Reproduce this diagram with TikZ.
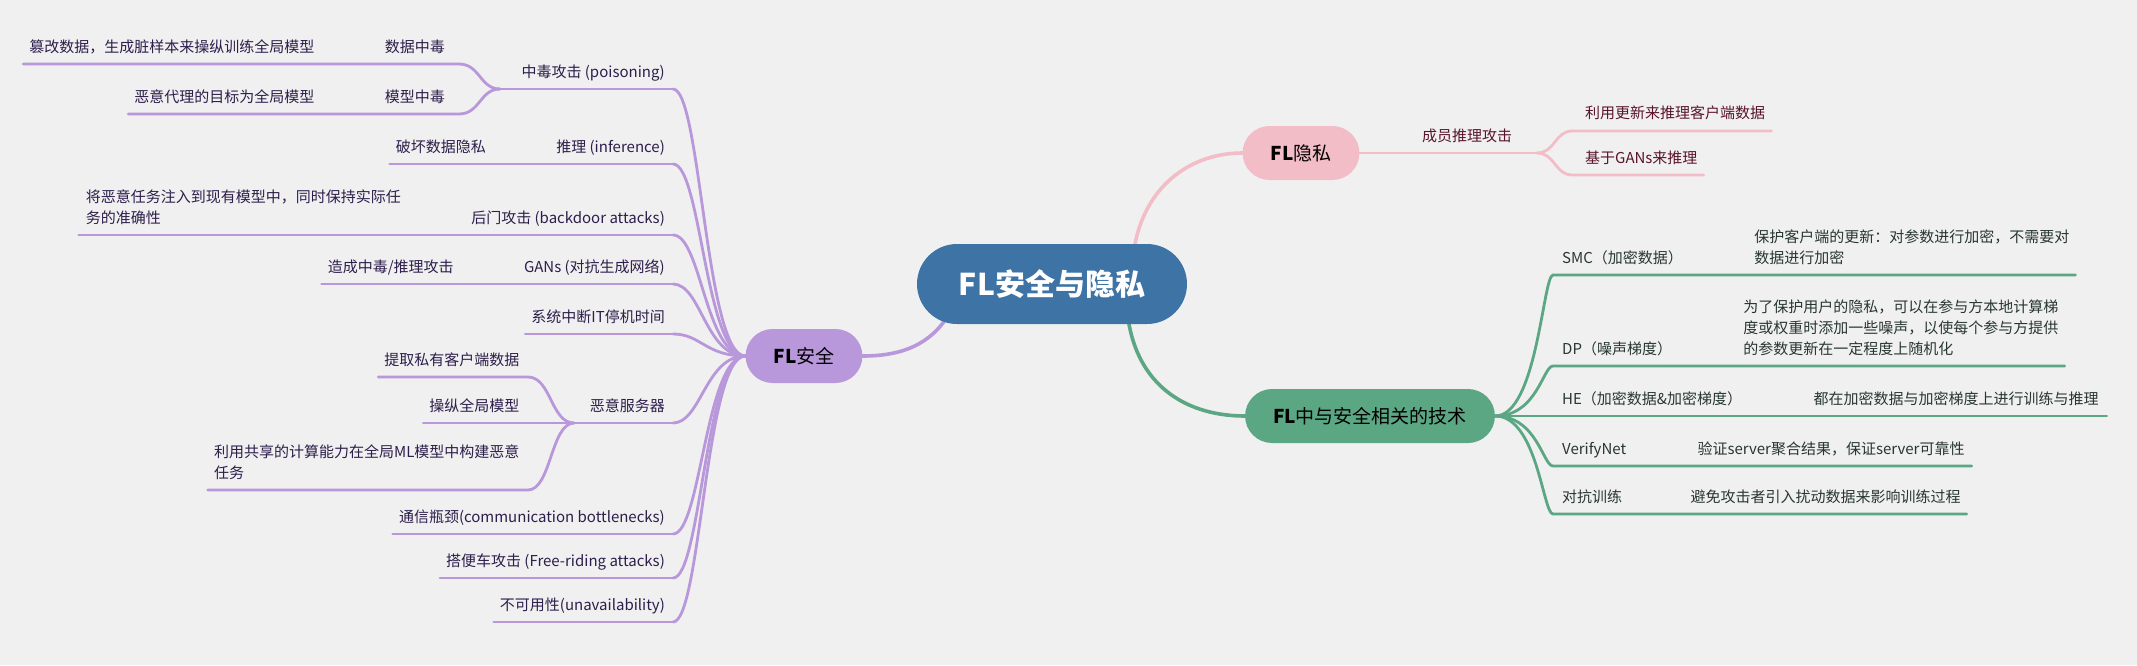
\documentclass[tikz,border=0pt]{standalone}
\usepackage{fontspec}
\setmainfont{Noto Sans CJK SC}
\usepackage{tikz}
\usetikzlibrary{positioning,
                backgrounds}
\definecolor{canvas}{RGB}{240,240,240}
\definecolor{rootblue}{RGB}{61,115,165}
\definecolor{secpurple}{RGB}{184,151,218}
\definecolor{privpink}{RGB}{243,189,200}
\definecolor{techgreen}{RGB}{91,166,131}
\definecolor{purtext}{RGB}{45,30,75}
\definecolor{pinktext}{RGB}{90,20,45}
\definecolor{greentext}{RGB}{40,55,48}
\tikzset{root/.style =
   {rectangle,
    rounded corners=40pt,
    fill=rootblue,
    text=white,
    font=\fontsize{30}{36}\selectfont\bfseries,
    minimum width=270pt,
    minimum height=80pt}}
\tikzset{topic/.style =
   {rectangle,
    rounded corners=27pt,
    inner xsep=28pt,
    minimum height=54pt,
    font=\fontsize{19}{23}\selectfont}}
\tikzset{leaf/.style =
   {inner sep=0pt,
    font=\fontsize{15}{21}\selectfont}}
\tikzset{note/.style = {align=left}}
\tikzset{purleaf/.style = {leaf, text=purtext}}
\tikzset{pinkleaf/.style = {leaf, text=pinktext}}
\tikzset{greenleaf/.style = {leaf, text=greentext}}
\tikzset{purline/.style = {draw=secpurple, line width=2.8pt, line cap=round}}
\tikzset{pinkline/.style = {draw=privpink, line width=2.8pt, line cap=round}}
\tikzset{greenline/.style = {draw=techgreen, line width=2.8pt, line cap=round}}

\begin{document}
\begin{tikzpicture}[x=1pt, y=-1pt]

    \useasboundingbox (0,0) rectangle (2137,665);

    \node [root] (core) at (1052,284) {FL安全与隐私};

    \node [topic, fill=secpurple] (sec) at (804,356) {{\bfseries FL}安全};
    \node [topic, fill=privpink] (priv) at (1301,153) {{\bfseries FL}隐私};
    \node [topic, fill=techgreen] (tech) at (1370,416) {{\bfseries FL}中与安全相关的技术};

    \node [purleaf, anchor=base east] (poison) at (665,77) {中毒攻击 (poisoning)};
    \node [purleaf, anchor=base east] (datapoison) at (445,52) {数据中毒};
    \node [purleaf,
           left = 70pt of datapoison.base west,
           anchor=base east] (tamper) {篡改数据，生成脏样本来操纵训练全局模型};
    \node [purleaf, anchor=base east] (modelpoison) at (445,102) {模型中毒};
    \node [purleaf,
           left = 70pt of modelpoison.base west,
           anchor=base east] (agent) {恶意代理的目标为全局模型};

    \node [purleaf, anchor=base east] (infer) at (665,152) {推理 (inference)};
    \node [purleaf,
           left = 70pt of infer.base west,
           anchor=base east] (breach) {破坏数据隐私};

    \node [purleaf, anchor=base east] (backdoor) at (665,223) {后门攻击 (backdoor attacks)};
    \node [purleaf, note,
           left = 70pt of backdoor.base west,
           anchor=base east] (inject)
    {将恶意任务注入到现有模型中，同时保持实际任\\务的准确性};

    \node [purleaf, anchor=base east] (gans) at (665,272) {GANs (对抗生成网络)};
    \node [purleaf,
           left = 70pt of gans.base west,
           anchor=base east] (cause) {造成中毒/推理攻击};

    \node [purleaf, anchor=base east] (outage) at (665,322) {系统中断IT停机时间};

    \node [purleaf, anchor=base east] (server) at (665,411) {恶意服务器};
    \node [purleaf,
           left = 70pt of server.base west,
           anchor=base east] (steer) {操纵全局模型};
    \node [purleaf, anchor=base east] (extract) at (steer.base east |- 0,365) {提取私有客户端数据};
    \node [purleaf, note, anchor=base east] (craft) at (steer.base east |- 0,478)
    {利用共享的计算能力在全局ML模型中构建恶意\\任务};

    \node [purleaf, anchor=base east] (bottleneck) at (665,522) {通信瓶颈(communication bottlenecks)};
    \node [purleaf, anchor=base east] (freeride) at (665,566) {搭便车攻击 (Free-riding attacks)};
    \node [purleaf, anchor=base east] (unavail) at (665,610) {不可用性(unavailability)};

    \node [pinkleaf, anchor=base west] (member) at (1422,141) {成员推理攻击};
    \node [pinkleaf, anchor=base west] (reconstruct) at (1585,118) {利用更新来推理客户端数据};
    \node [pinkleaf, anchor=base west] (ganinfer) at (1585,163) {基于GANs来推理};

    \node [greenleaf, anchor=base west] (smc) at (1562,263) {SMC（加密数据）};
    \node [greenleaf, note,
           right = 71pt of smc.base east,
           anchor=base west] (smcnote)
    {保护客户端的更新：对参数进行加密，不需要对\\数据进行加密};
    \node [greenleaf, anchor=base west] (dp) at (1562,354) {DP（噪声梯度）};
    \node [greenleaf, note,
           right = 71pt of dp.base east,
           anchor=base west] (dpnote)
    {为了保护用户的隐私，可以在参与方本地计算梯\\度或权重时添加一些噪声，以使每个参与方提供\\的参数更新在一定程度上随机化};
    \node [greenleaf, anchor=base west] (he) at (1562,404) {HE（加密数据\&加密梯度）};
    \node [greenleaf,
           right = 71pt of he.base east,
           anchor=base west] (henote) {都在加密数据与加密梯度上进行训练与推理};
    \node [greenleaf, anchor=base west] (verify) at (1562,454) {VerifyNet};
    \node [greenleaf,
           right = 71pt of verify.base east,
           anchor=base west] (verifynote) {验证server聚合结果，保证server可靠性};
    \node [greenleaf, anchor=base west] (adv) at (1562,502) {对抗训练};
    \node [greenleaf,
           right = 68pt of adv.base east,
           anchor=base west] (advnote) {避免攻击者引入扰动数据来影响训练过程};

    \begin{scope}[on background layer]
    \fill [canvas] (0,0) rectangle (2137,665);

    \draw [purline, line width=3.6pt] ([xshift=-107pt,yshift=4pt]core.south)
        .. controls +(-20,28) and +(33,0) .. (sec.east);
    \draw [pinkline, line width=3.6pt] ([xshift=83pt]core.north)
        .. controls +(12,-60) and +(-50,0) .. (priv.west);
    \draw [greenline, line width=3.6pt] ([xshift=77pt]core.south)
        .. controls +(12,65) and +(-55,0) .. (tech.west);

    \foreach \y [count=\i] in {89,164,235,284,334,423,534,578,622}
    {
        \coordinate (sp\i) at (673,\y);
        \draw [purline] (sp\i) .. controls +(28,0) and +(-40,0) .. (sec.west);
    }
    \coordinate (jpoison) at (500,89);
    \coordinate (kdata) at (459,64);
    \coordinate (kmodel) at (459,114);
    \coordinate (jserver) at (574,423);
    \coordinate (kextract) at (528,377);
    \coordinate (kcraft) at (528,490);

    \draw [purline] (jpoison) -- (sp1);
    \draw [purline] ([xshift=-6pt]tamper.base west |- kdata) -- (kdata)
        .. controls +(21,0) and +(-20,0) .. (jpoison);
    \draw [purline] ([xshift=-6pt]agent.base west |- kmodel) -- (kmodel)
        .. controls +(21,0) and +(-20,0) .. (jpoison);
    \draw [purline] ([xshift=-6pt]breach.base west |- sp2) -- (sp2);
    \draw [purline] ([xshift=-7pt]inject.west |- sp3) -- (sp3);
    \draw [purline] ([xshift=-6pt]cause.base west |- sp4) -- (sp4);
    \draw [purline] ([xshift=-6pt]outage.base west |- sp5) -- (sp5);
    \draw [purline] ([xshift=-6pt]steer.base west |- sp6) -- (sp6);
    \draw [purline] ([xshift=-6pt]extract.base west |- kextract) -- (kextract)
        .. controls +(23,0) and +(-23,0) .. (jserver);
    \draw [purline] ([xshift=-6pt]craft.west |- kcraft) -- (kcraft)
        .. controls +(23,0) and +(-23,0) .. (jserver);
    \draw [purline] ([xshift=-6pt]bottleneck.base west |- sp7) -- (sp7);
    \draw [purline] ([xshift=-6pt]freeride.base west |- sp8) -- (sp8);
    \draw [purline] ([xshift=-6pt]unavail.base west |- sp9) -- (sp9);

    \coordinate (kmember) at (1537,153);
    \coordinate (kreconstruct) at (1572,131);
    \coordinate (kganinfer) at (1572,175);
    \draw [pinkline] (priv.east) -- (kmember);
    \draw [pinkline] (kmember) .. controls +(18,0) and +(-17,0) .. (kreconstruct)
        -- ([xshift=6pt]reconstruct.base east |- kreconstruct);
    \draw [pinkline] (kmember) .. controls +(18,0) and +(-17,0) .. (kganinfer)
        -- ([xshift=6pt]ganinfer.base east |- kganinfer);

    \coordinate (ksmc) at (1553,275);
    \coordinate (kdp) at (1553,366);
    \coordinate (kverify) at (1553,466);
    \coordinate (kadv) at (1553,514);
    \draw [greenline] (tech.east) .. controls +(42,0) and +(-10,0) .. (ksmc)
        -- ([xshift=6pt]smcnote.east |- ksmc);
    \draw [greenline] (tech.east) .. controls +(42,0) and +(-10,0) .. (kdp)
        -- ([xshift=6pt]dpnote.east |- kdp);
    \draw [greenline] (tech.east) -- ([xshift=8pt]henote.base east |- tech.east);
    \draw [greenline] (tech.east) .. controls +(42,0) and +(-10,0) .. (kverify)
        -- ([xshift=7pt]verifynote.base east |- kverify);
    \draw [greenline] (tech.east) .. controls +(42,0) and +(-10,0) .. (kadv)
        -- ([xshift=6pt]advnote.base east |- kadv);
    \end{scope}

\end{tikzpicture}
\end{document}
